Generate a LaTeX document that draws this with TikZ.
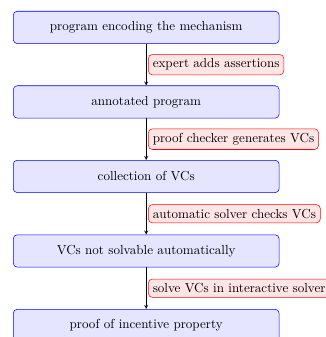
\documentclass[tikz,border=0pt]{standalone}
\usepackage{amsmath}
\usepackage{tikz}
\usetikzlibrary{shapes,arrows,positioning}

\tikzset{
  stagebox/.style={rectangle, rounded corners=3pt, draw=blue, fill=blue!10,
    minimum width=7.15cm, minimum height=0.87cm},
  actionlabel/.style={rectangle, rounded corners=3pt, draw=red, fill=red!10,
    right, xshift=1.5pt, midway}
}

\begin{document}
\begin{tikzpicture}[node distance=1.12cm, >=stealth]
    % stages of the verification workflow
    \node[stagebox] (code) {program encoding the mechanism};
    \node[stagebox, below=of code] (annot) {annotated program};
    \node[stagebox, below=of annot] (vcs) {collection of VCs};
    \node[stagebox, below=of vcs] (hard) {VCs not solvable automatically};
    \node[stagebox, below=of hard] (proof) {proof of incentive property};

    % steps between the stages
    \draw[->] (code) -- node[actionlabel] {expert adds assertions} (annot);
    \draw[->] (annot) -- node[actionlabel] {proof checker generates VCs} (vcs);
    \draw[->] (vcs) -- node[actionlabel] {automatic solver checks VCs} (hard);
    \draw[->] (hard) -- node[actionlabel] {solve VCs in interactive solver} (proof);

    % crop as in the original
    \pgfresetboundingbox
    \useasboundingbox ([xshift=-9.95pt, yshift=8.4pt]code.north west)
        rectangle ([xshift=35.2pt, yshift=-21.4pt]proof.north east);
\end{tikzpicture}
\end{document}
